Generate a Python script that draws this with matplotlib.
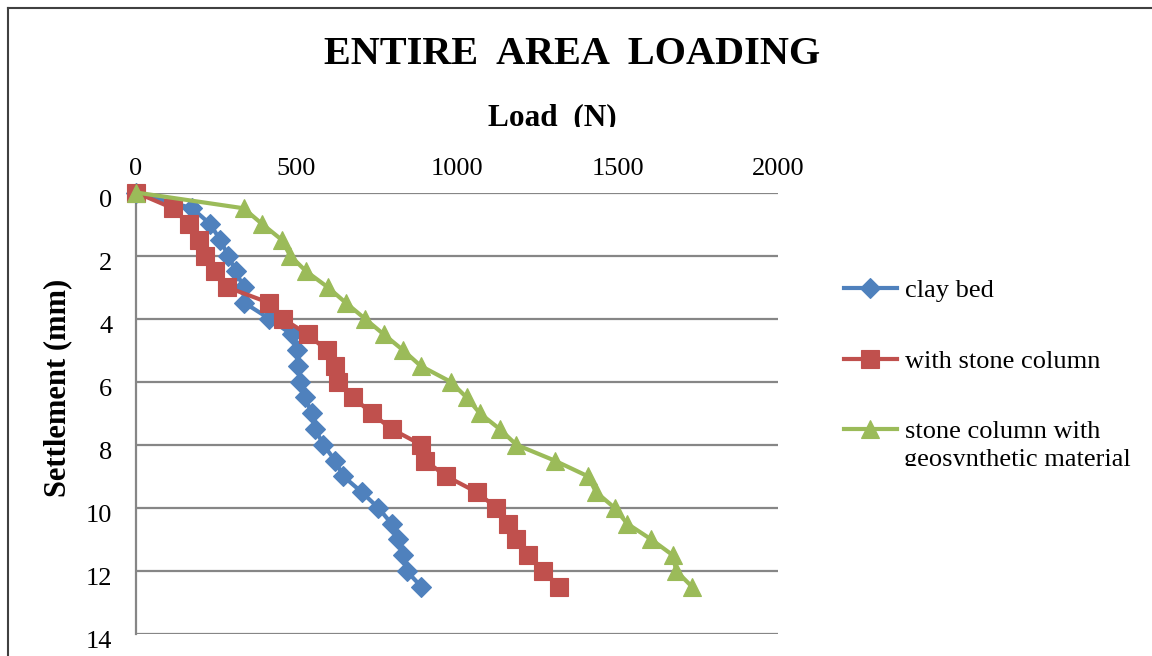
"""ENTIRE AREA LOADING - load vs settlement for three bed configurations."""
import matplotlib
matplotlib.use("Agg")
import matplotlib.pyplot as plt
from matplotlib.lines import Line2D
from matplotlib.transforms import Bbox, TransformedBbox, ScaledTranslation

plt.rcParams["font.family"] = ["Liberation Serif", "DejaVu Serif"]

# settlement (mm), one reading every 0.5 mm
SETTLEMENT = [0, 0.5, 1, 1.5, 2, 2.5, 3, 3.5, 4, 4.5, 5, 5.5, 6, 6.5,
              7, 7.5, 8, 8.5, 9, 9.5, 10, 10.5, 11, 11.5, 12, 12.5]

# load (N)
CLAY_BED = [0, 175, 231, 262, 287, 311, 335, 338, 415, 485, 500, 506, 511, 527,
            547, 558, 584, 620, 646, 703, 755, 796, 817, 832, 843, 889]
STONE_COLUMN = [0, 115, 164, 195, 216, 245, 283, 415, 457, 535, 594, 620, 630, 677,
                734, 796, 889, 900, 967, 1061, 1123, 1159, 1185, 1221, 1268, 1319]
GEOSYNTHETIC = [0, 335, 393, 454, 480, 530, 597, 654, 713, 772, 832, 887, 980, 1030,
                1071, 1133, 1185, 1304, 1408, 1433, 1491, 1530, 1605, 1672, 1683, 1732]

SERIES = [
    ("clay bed", CLAY_BED, "#4F81BD", "D", 10.5),
    ("with stone column", STONE_COLUMN, "#C0504D", "s", 13),
    ("stone column with", GEOSYNTHETIC, "#9BBB59", "^", 13),
]

X_TICKS = [0, 500, 1000, 1500, 2000]
Y_TICKS = [0, 2, 4, 6, 8, 10, 12, 14]

W, H = 1152, 656
GRID = "#868686"


def fx(px):
    return px / W


def fy(py):
    return 1 - py / H


def clip_below(artist, fig, py):
    box = TransformedBbox(Bbox([[0, fy(py)], [1, 1]]), fig.transFigure)
    artist.set_clip_box(box)
    artist.set_clip_on(True)


def main():
    fig = plt.figure(figsize=(W / 100, H / 100), dpi=100)
    ax = fig.add_axes([fx(136), fy(634), fx(778) - fx(136), fy(192.5) - fy(634)])

    for label, loads, color, marker, ms in SERIES:
        ax.plot(loads, SETTLEMENT, color=color, linewidth=3, marker=marker,
                markersize=ms, markeredgewidth=0.8, markeredgecolor=color,
                label=label, clip_on=False, zorder=3)

    ax.set_xlim(0, 2000)
    ax.set_ylim(14, 0)
    ax.set_xticks(X_TICKS)
    ax.set_yticks(Y_TICKS)
    ax.xaxis.tick_top()
    ax.tick_params(axis="both", length=0, labelsize=19)
    ax.tick_params(axis="x", pad=9)
    ax.tick_params(axis="y", pad=17)
    off = ScaledTranslation(0, -4 / 72, fig.dpi_scale_trans)
    for t in ax.get_yticklabels():
        t.set_transform(t.get_transform() + off)

    ax.grid(axis="y", color=GRID, linewidth=1.6)
    ax.set_axisbelow(True)
    for side in ("top", "right", "bottom"):
        ax.spines[side].set_visible(False)
    ax.spines["left"].set_color(GRID)
    ax.spines["left"].set_linewidth(1.6)

    fig.text(fx(572), fy(54), "ENTIRE  AREA  LOADING", ha="center", va="center",
             fontsize=29, fontweight="bold")
    load_lbl = fig.text(fx(552), fy(118), "Load  (N)", ha="center", va="center",
                        fontsize=22.5, fontweight="bold")
    clip_below(load_lbl, fig, 127)
    fig.text(fx(58), fy(388), "Settlement (mm)", ha="center", va="center",
             rotation=90, fontsize=22, fontweight="bold")

    handles, labels = ax.get_legend_handles_labels()
    fig.legend(handles, labels, loc="upper left",
               bbox_to_anchor=(fx(844), fy(279)), frameon=False, fontsize=19,
               handlelength=2.0, handletextpad=0.32, labelspacing=1.78,
               borderpad=0, borderaxespad=0, markerscale=0.95)
    second = fig.text(fx(904), fy(460), "geosynthetic material", ha="left",
                      va="center", fontsize=19)
    clip_below(second, fig, 466)

    # outer chart frame (left and top edges visible in the crop)
    fig.add_artist(Line2D([fx(8), fx(8)], [0, fy(8)], color="#404040", linewidth=1.5))
    fig.add_artist(Line2D([fx(8), 1], [fy(8), fy(8)], color="#404040", linewidth=1.5))

    fig.savefig("out.png", dpi=100)


if __name__ == "__main__":
    main()
